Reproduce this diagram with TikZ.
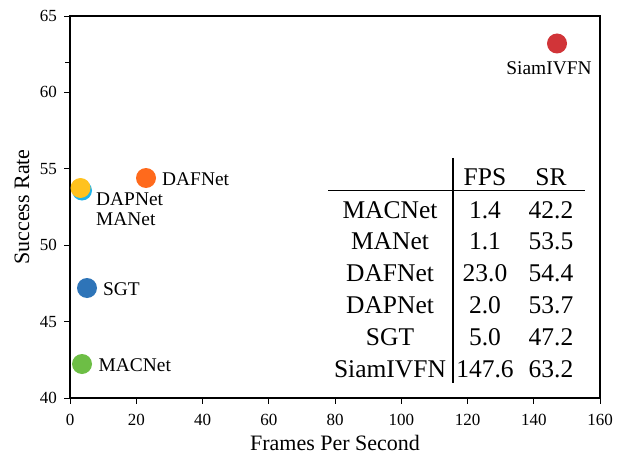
\documentclass[tikz,border=0pt]{standalone}
\usepackage{fontspec}
\setmainfont{Liberation Serif}
\definecolor{cred}{HTML}{D13438}
\definecolor{corange}{HTML}{FF6A1C}
\definecolor{cyellow}{HTML}{FFC21E}
\definecolor{ccyan}{HTML}{1EB4EC}
\definecolor{cblue}{HTML}{2E74B8}
\definecolor{cgreen}{HTML}{6DBE45}
\begin{document}
\begin{tikzpicture}[x=1pt,y=-1pt,
  axisline/.style={line width=1.2pt,black},
  tickline/.style={line width=0.9pt,black},
  ticklab/.style={font=\fontsize{17}{20}\selectfont,inner sep=0pt},
  axtitle/.style={font=\fontsize{22}{26}\selectfont,inner sep=0pt},
  ptlab/.style={font=\fontsize{19.4}{23}\selectfont,inner sep=0pt},
  tablab/.style={font=\fontsize{25.5}{30}\selectfont,inner sep=0pt,anchor=base},
  dot/.style={circle,inner sep=0pt,minimum size=20pt,draw=none}]
\useasboundingbox (0,0) rectangle (620,457);
\fill[white] (0,0) rectangle (620,457);
% frame
\draw[axisline] (70,16) rectangle (600,398);
% x ticks
\foreach \v in {0,20,...,160}{
  \pgfmathsetmacro{\px}{70+\v*3.3125}
  \draw[tickline] (\px,398) -- (\px,404);
  \node[ticklab,anchor=base] (xt\v) at (\px,425) {\v};
}
% y ticks
\foreach \v in {40,45,...,65}{
  \pgfmathsetmacro{\py}{398-(\v-40)*15.28}
  \draw[tickline] (70,\py) -- (64,\py);
  \node[ticklab,anchor=east] (yt\v) at (57,\py) {\v};
}
\draw[tickline] (65,62.5) -- (70,62.5);
% axis titles
\node[axtitle] (xtitle) at (335,443) {Frames Per Second};
\node[axtitle,rotate=90] (ytitle) at (22,207) {Success Rate};
% points
\node[dot,fill=cred] (siam) at (557,43.5) {};
\node[dot,fill=corange] (daf) at (146,178) {};
\node[dot,fill=ccyan] (manet) at (82,190.5) {};
\node[dot,fill=cyellow] (dap) at (80.5,188) {};
\node[dot,fill=cblue] (sgt) at (87,288) {};
\node[dot,fill=cgreen] (mac) at (82,364) {};
% point labels
\node[ptlab,anchor=base] (lsiam) at (549,75) {SiamIVFN};
\node[ptlab,anchor=base west] (ldaf) at (162,185) {DAFNet};
\node[ptlab,anchor=base west] (ldap) at (96,205) {DAPNet};
\node[ptlab,anchor=base west] (lmanet) at (96,225) {MANet};
\node[ptlab,anchor=base west] (lsgt) at (103,295) {SGT};
\node[ptlab,anchor=base west] (lmac) at (98.5,371) {MACNet};
% table
\draw[line width=1.2pt] (453,158) -- (453,383);
\draw[line width=1.2pt] (328,190.5) -- (585,190.5);
\node[tablab] (hfps) at (485,185) {FPS};
\node[tablab] (hsr) at (551,185) {SR};
\foreach \n/\f/\s [count=\i] in {MACNet/1.4/42.2,MANet/1.1/53.5,DAFNet/23.0/54.4,DAPNet/2.0/53.7,SGT/5.0/47.2,SiamIVFN/147.6/63.2}{
  \pgfmathsetmacro{\by}{218+(\i-1)*31.8}
  \node[tablab] (tn\i) at (390,\by) {\n};
  \node[tablab] (tf\i) at (485,\by) {\f};
  \node[tablab] (ts\i) at (551,\by) {\s};
}
\end{tikzpicture}
\end{document}
